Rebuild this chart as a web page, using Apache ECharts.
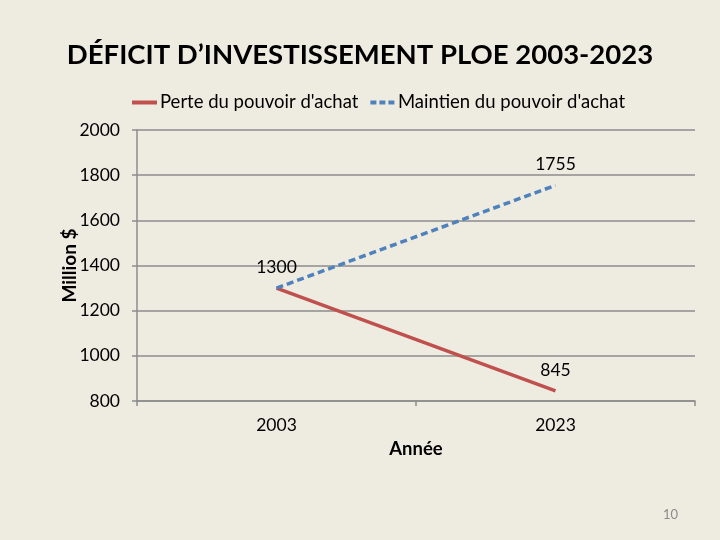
<!DOCTYPE html>
<html>
<head>
<meta charset="utf-8">
<script src="https://cdn.jsdelivr.net/npm/echarts@6/dist/echarts.min.js"></script>
<style>
html,body{margin:0;padding:0;background:#EEECE1;}
#c{width:720px;height:540px;}
</style>
</head>
<body>
<div id="c"></div>
<script>
const categories = ['2003', '2023'];
const perteValues = [1300, 845];
const maintienValues = [1300, 1755];
const perteLabelShown = [false, true];
const maintienLabelShown = [true, true];
const yTicks = [800, 1000, 1200, 1400, 1600, 1800, 2000];

const FONT = 'Lato, "Open Sans", sans-serif';
const RED = '#C0504D';
const BLUE = '#4F81BD';
const chart = echarts.init(document.getElementById('c'));

function build(values, shown) {
  return values.map((v, i) => ({ value: v, label: { show: shown[i] } }));
}

chart.setOption({
  backgroundColor: '#EEECE1',
  animation: false,
  textStyle: { fontFamily: FONT },
  title: [{
    text: 'DÉFICIT D’INVESTISSEMENT PLOE 2003-2023',
    left: 'center',
    top: 36,
    textStyle: { fontFamily: FONT, fontWeight: 'bold', fontSize: 27.5, color: '#000' }
  }, {
    text: '10',
    left: 658,
    top: 503,
    textStyle: { fontFamily: FONT, fontWeight: 'normal', fontSize: 13, color: '#8B8B8B' }
  }],
  legend: {
    top: 88,
    left: 127,
    itemGap: 12,
    itemWidth: 25,
    itemHeight: 4,
    textStyle: { fontFamily: FONT, fontSize: 18.5, color: '#000', padding: [0, 0, 0, -2] },
    data: [
      { name: 'Perte du pouvoir d\'achat', icon: 'rect', itemStyle: { color: RED } },
      { name: 'Maintien du pouvoir d\'achat', icon: 'path://M0,0H6V4H0Z M9,0H15V4H9Z M18,0H24V4H18Z', itemStyle: { color: BLUE } }
    ]
  },
  grid: { left: 137, right: 25, top: 130, bottom: 139 },
  xAxis: {
    type: 'category',
    data: categories,
    boundaryGap: true,
    name: 'Année',
    nameLocation: 'middle',
    nameGap: 39,
    nameTextStyle: { fontFamily: FONT, fontWeight: 'bold', fontSize: 18.5, color: '#000' },
    axisLine: { lineStyle: { color: '#8C8C8C', width: 1.5 } },
    axisTick: { show: true, length: 5, alignWithLabel: false, lineStyle: { color: '#8C8C8C', width: 1.5 } },
    axisLabel: { fontFamily: FONT, fontSize: 17.5, color: '#000', margin: 15 }
  },
  yAxis: {
    type: 'value',
    min: 800,
    max: 2000,
    interval: 200,
    name: 'Million $',
    nameLocation: 'middle',
    nameGap: 58,
    nameMoveOverlap: false,
    nameTextStyle: { fontFamily: FONT, fontWeight: 'bold', fontSize: 19, color: '#000' },
    axisLine: { show: true, lineStyle: { color: '#8C8C8C', width: 1.5 } },
    axisTick: { show: true, length: 5, lineStyle: { color: '#8C8C8C', width: 1.5 } },
    axisLabel: {
      fontFamily: FONT, fontSize: 17.5, color: '#000', margin: 17,
      formatter: v => (yTicks.includes(v) ? String(v) : '')
    },
    splitLine: { show: true, lineStyle: { color: '#8C8C8C', width: 1.5 } }
  },
  series: [{
    name: 'Perte du pouvoir d\'achat',
    type: 'line',
    data: build(perteValues, perteLabelShown),
    symbol: 'circle',
    symbolSize: 1,
    showSymbol: true,
    itemStyle: { color: 'rgba(0,0,0,0)' },
    lineStyle: { color: RED, width: 3.5 },
    label: { position: 'top', distance: 11, fontFamily: FONT, fontSize: 17.5, color: '#000' },
    z: 3
  }, {
    name: 'Maintien du pouvoir d\'achat',
    type: 'line',
    data: build(maintienValues, maintienLabelShown),
    symbol: 'circle',
    symbolSize: 1,
    showSymbol: true,
    itemStyle: { color: 'rgba(0,0,0,0)' },
    lineStyle: { color: BLUE, width: 3.5, type: [7, 4] },
    label: { position: 'top', distance: 11, fontFamily: FONT, fontSize: 17.5, color: '#000' },
    z: 4
  }]
});
</script>
</body>
</html>
